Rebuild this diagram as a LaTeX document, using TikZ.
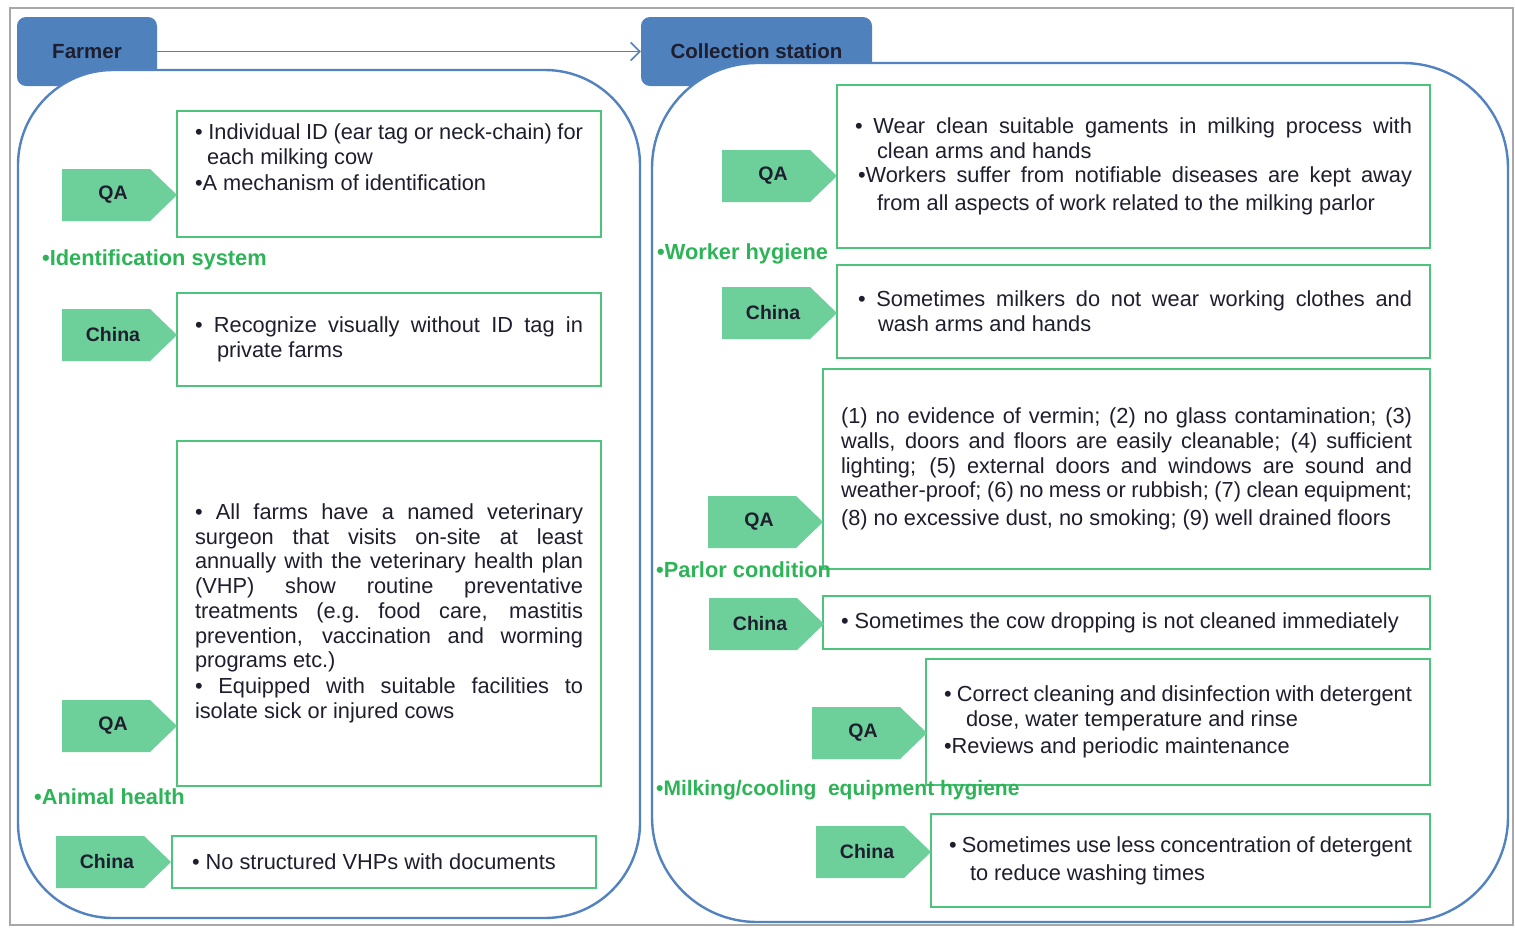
\documentclass[tikz,border=0pt]{standalone}
\usepackage{fontspec}
\setmainfont{Liberation Sans}
\usetikzlibrary{arrows.meta}
\definecolor{tabblue}{HTML}{4F81BD}
\definecolor{contblue}{HTML}{5282BF}
\definecolor{boxgreen}{HTML}{4CC47C}
\definecolor{pentgreen}{HTML}{6DD09B}
\definecolor{lblgreen}{HTML}{2DB457}
\definecolor{textdark}{HTML}{1E1E2E}
\definecolor{framegray}{HTML}{A8A8A8}
\newcommand\bodyfont{\fontsize{21.8}{24.7}\selectfont}
\newcommand\tagfont{\fontsize{19.5}{22}\selectfont\bfseries}
\newcommand\tabfont{\fontsize{20.5}{23}\selectfont\bfseries}
\newcommand\lblfont{\fontsize{21.8}{24}\selectfont\bfseries}
\newcommand\jl[1]{\leavevmode\hbox to \hsize{\spaceskip=0pt\xspaceskip=0pt #1}}
\newcommand\pent[4]{%
  \fill[pentgreen] (#2,#3-26) -- (#2+88,#3-26) -- (#2+115,#3) -- (#2+88,#3+26) -- (#2,#3+26) -- cycle;
  \node[tagtext] (#1) at (#2+51,#3) {#4};}
\begin{document}
\begin{tikzpicture}[x=1pt,y=-1pt,
  tab/.style={fill=tabblue, rounded corners=9pt, text=textdark, font=\tabfont, inner sep=0pt},
  flow/.style={draw=tabblue, line width=1.6pt, -{Straight Barb[length=9pt,width=18pt]}},
  container/.style={draw=contblue, line width=2.4pt, fill=white},
  box/.style={draw=boxgreen, line width=1.6pt, fill=white, inner xsep=18pt, inner ysep=0pt, align=flush left, font=\bodyfont, text=textdark},
  tagtext/.style={font=\tagfont, text=textdark, inner sep=0pt},
  lbl/.style={font=\lblfont, text=lblgreen, anchor=west, inner sep=0pt}]
\useasboundingbox (0,0) rectangle (1515,927);
\draw[framegray, line width=2.5pt] (10,8) rectangle (1513,925);
% tabs
\node[tab, minimum width=140pt, minimum height=69pt] (farmer) at (87,51.5) {Farmer};
\node[tab, minimum width=231pt, minimum height=69pt] (coll) at (756.5,51.5) {Collection station};
\draw[flow] (farmer.east) -- (coll.west);
% containers
\draw[container, rounded corners=95pt] (18,70) rectangle (640,918);
\draw[container, rounded corners=105pt] (652,63) rectangle (1508,922);
% left boxes
\node[box, text width=388pt, minimum height=126pt] (b1) at (389,174) {%
\jl{• Individual ID (ear tag or neck-chain) for}\\
\hspace*{12pt}each milking cow\\[1pt]
•A mechanism of identification\rule[-34pt]{0pt}{34pt}};
\node[box, text width=388pt, minimum height=93pt] (b2) at (389,339.5) {%
\jl{• Recognize visually without ID tag in}\\
\hspace*{22pt}private farms};
\node[box, text width=388pt, minimum height=345pt] (b3) at (389,613.5) {%
\jl{• All farms have a named veterinary}\\
\jl{surgeon that visits on-site at least}\\
\jl{annually with the veterinary health plan}\\
\jl{(VHP) show routine preventative}\\
\jl{treatments (e.g.\ food care, mastitis}\\
\jl{prevention, vaccination and worming}\\
programs etc.)\\[1.5pt]
\jl{• Equipped with suitable facilities to}\\
isolate sick or injured cows};
\node[box, inner xsep=20pt, text width=384pt, minimum height=52pt] (b4) at (384,862) {%
• No structured VHPs with documents};
% right boxes
\node[box, text width=557pt, minimum height=163pt] (b5) at (1133.5,166.5) {%
\jl{• Wear clean suitable gaments in milking process with}\\
\hspace*{22pt}clean arms and hands\\
\jl{\hspace*{3pt}•Workers suffer from notifiable diseases are kept away}\\[3pt]
\hspace*{22pt}from all aspects of work related to the milking parlor};
\node[box, text width=557pt, minimum height=93pt] (b6) at (1133.5,311.5) {%
\jl{\hspace*{3pt}• Sometimes milkers do not wear working clothes and}\\
\hspace*{23pt}wash arms and hands};
\node[box, text width=571pt, minimum height=200pt] (b7) at (1126.5,469) {%
\jl{(1) no evidence of vermin; (2) no glass contamination; (3)}\\
\jl{walls, doors and floors are easily cleanable; (4) sufficient}\\
\jl{lighting; (5) external doors and windows are sound and}\\
\jl{weather-proof; (6) no mess or rubbish; (7) clean equipment;}\\[3pt]
(8) no excessive dust, no smoking; (9) well drained floors};
\node[box, text width=571pt, minimum height=53pt] (b8) at (1126.5,622.5) {%
• Sometimes the cow dropping is not cleaned immediately};
\node[box, text width=468pt, minimum height=126pt] (b9) at (1178,722) {%
\jl{• Correct cleaning and disinfection with detergent}\\
\hspace*{22pt}dose, water temperature and rinse\\[3pt]
•Reviews and periodic maintenance};
\node[box, text width=463pt, minimum height=93pt] (b10) at (1180.5,860.5) {%
\jl{• Sometimes use less concentration of detergent}\\[3pt]
\hspace*{21pt}to reduce washing times};
% tags
\pent{p1}{62}{195}{QA}
\pent{p2}{62}{335}{China}
\pent{p3}{62}{726}{QA}
\pent{p4}{56}{862}{China}
\pent{p5}{722}{176}{QA}
\pent{p6}{722}{313}{China}
\pent{p7}{708}{522}{QA}
\pent{p8}{709}{624}{China}
\pent{p9}{812}{733}{QA}
\pent{p10}{816}{852}{China}
% labels
\node[lbl] (l1) at (42,260) {•Identification system};
\node[lbl] (l2) at (34,797) {•Animal health};
\node[lbl] (l3) at (657,254) {•Worker hygiene};
\node[lbl] (l4) at (656,570) {•Parlor condition};
\node[lbl, font=\fontsize{21}{24}\selectfont\bfseries] (l5) at (656,790) {•Milking/cooling\ \ equipment hygiene};
\end{tikzpicture}
\end{document}
